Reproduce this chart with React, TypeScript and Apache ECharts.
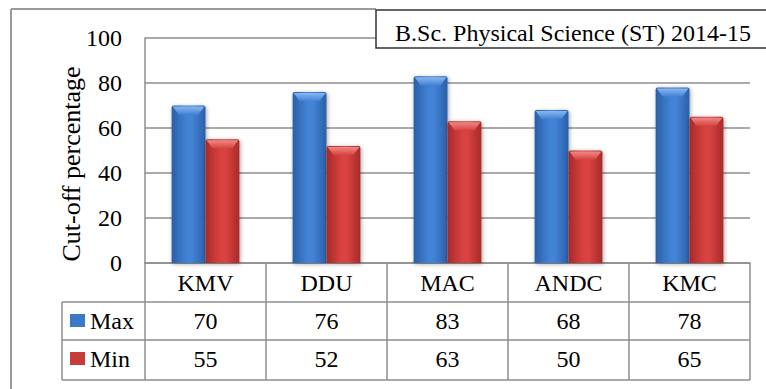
import React, { useEffect, useRef } from "react";
import * as echarts from "echarts";

const categories = ["KMV", "DDU", "MAC", "ANDC", "KMC"];
const maxValues = [70, 76, 83, 68, 78];
const minValues = [55, 52, 63, 50, 65];
const seriesNames = ["Max", "Min"];
const yTicks = { min: 0, max: 100, interval: 20 };
const titleText = "B.Sc. Physical Science (ST) 2014-15";
const yAxisTitle = "Cut-off percentage";

const FONT = "Liberation Serif";
const GRAY = "#8e8e8e";

const palettes = [
  { edge: "#2a5fa8", mid: "#4383d6", light: "#8ab6ee", base: "#3b78c8" },
  { edge: "#a82a2a", mid: "#d8433f", light: "#ee8a86", base: "#c83b3b" },
];

function makeRender(seriesIdx: number) {
  return (params: any, api: any) => {
    const cat = api.value(0);
    const val = api.value(1);
    const top = api.coord([cat, val]);
    const base = api.coord([cat, 0]);
    const band = api.size([1, 0])[0];
    const bw = band * 0.28;
    const x = top[0] + (seriesIdx === 0 ? -bw : 0);
    const y = top[1];
    const h = base[1] - top[1];
    const p = palettes[seriesIdx];
    const bevelH = Math.min(9, h);
    const bevelW = 7;
    return {
      type: "group",
      children: [
        {
          type: "rect",
          shape: { x, y, width: bw, height: h, r: [2, 2, 0, 0] },
          style: {
            fill: new echarts.graphic.LinearGradient(0, 0, 1, 0, [
              { offset: 0, color: p.edge },
              { offset: 0.45, color: p.mid },
              { offset: 0.6, color: p.mid },
              { offset: 1, color: p.edge },
            ]),
            shadowBlur: 4,
            shadowOffsetX: 1,
            shadowOffsetY: 1,
            shadowColor: "rgba(0,0,0,0.35)",
          },
        },
        {
          type: "polygon",
          shape: {
            points: [
              [x + 1, y + 1],
              [x + bw - 1, y + 1],
              [x + bw - bevelW, y + bevelH],
              [x + bevelW, y + bevelH],
            ],
          },
          style: {
            fill: new echarts.graphic.LinearGradient(0, 0, 0, 1, [
              { offset: 0, color: p.light },
              { offset: 1, color: p.mid },
            ]),
          },
        },
      ],
    };
  };
}

export default function App() {
  const ref = useRef<HTMLDivElement>(null);
  useEffect(() => {
    if (!ref.current) return;
    const chart = echarts.init(ref.current, null, { renderer: "svg" });
    const gridLeft = 145;
    const gridRight = 750;
    const axisY = 263;
    const rowLines = [302, 340, 380];
    const legendLeft = 62;

    const graphics: any[] = [
      { type: "line", shape: { x1: 11, y1: 9, x2: 376, y2: 9 }, style: { stroke: "#9a9a9a", lineWidth: 2 } },
      { type: "line", shape: { x1: 11, y1: 9, x2: 11, y2: 392 }, style: { stroke: "#9a9a9a", lineWidth: 2 } },
      {
        type: "rect",
        shape: { x: 376, y: 10, width: 400, height: 38 },
        style: { fill: "#fff", stroke: "#333", lineWidth: 1.5 },
        z: 10,
      },
      {
        type: "text",
        x: 573,
        y: 33,
        z: 11,
        style: { text: titleText, fontFamily: FONT, fontSize: 24, fill: "#000", align: "center", verticalAlign: "middle" },
      },
      {
        type: "text",
        x: 71,
        y: 164,
        rotation: Math.PI / 2,
        style: { text: yAxisTitle, fontFamily: FONT, fontSize: 26, fill: "#000", align: "center", verticalAlign: "middle" },
      },
      ...rowLines.map((yy) => ({
        type: "line",
        shape: { x1: legendLeft, y1: yy, x2: gridRight, y2: yy },
        style: { stroke: GRAY, lineWidth: 1.5 },
      })),
      {
        type: "line",
        shape: { x1: legendLeft, y1: rowLines[0], x2: legendLeft, y2: rowLines[2] },
        style: { stroke: GRAY, lineWidth: 1.5 },
      },
    ];

    const rowAxis = (offset: number, formatter: any, show: boolean) => ({
      type: "category",
      data: categories,
      position: "bottom",
      offset,
      axisLine: { show, lineStyle: { color: GRAY, width: 1.5 } },
      axisTick: show
        ? { show: true, length: 117, inside: false, lineStyle: { color: GRAY, width: 1.5 } }
        : { show: false },
      axisLabel: {
        margin: 0,
        formatter,
        fontFamily: FONT,
        fontSize: 24,
        color: "#000",
        lineHeight: offset === 0 ? 39 : 38,
        interval: 0,
      },
      splitLine: { show: false },
    });

    chart.setOption({
      animation: false,
      backgroundColor: "#fff",
      textStyle: { fontFamily: FONT },
      grid: { left: gridLeft, right: 766 - gridRight, top: 38, bottom: 389 - axisY, containLabel: false },
      legend: {
        orient: "vertical",
        left: 70,
        top: rowLines[0],
        padding: 0,
        itemGap: 1,
        itemWidth: 15,
        itemHeight: 13,
        icon: "rect",
        data: seriesNames,
        textStyle: { fontFamily: FONT, fontSize: 24, color: "#000", lineHeight: 37 },
      },
      xAxis: [
        rowAxis(0, (v: string) => v, true),
        rowAxis(39, (_v: string, i: number) => String(maxValues[i]), false),
        rowAxis(77, (_v: string, i: number) => String(minValues[i]), false),
      ],
      yAxis: {
        type: "value",
        min: yTicks.min,
        max: yTicks.max,
        interval: yTicks.interval,
        axisLine: { show: true, lineStyle: { color: GRAY, width: 1.5 } },
        axisTick: { show: false },
        axisLabel: { margin: 23, fontFamily: FONT, fontSize: 24, color: "#000" },
        splitLine: { show: true, lineStyle: { color: GRAY, width: 1.5 } },
      },
      series: [
        {
          name: seriesNames[0],
          type: "custom",
          xAxisIndex: 0,
          itemStyle: { color: palettes[0].base },
          renderItem: makeRender(0),
          encode: { x: 0, y: 1 },
          data: maxValues.map((v, i) => [i, v]),
        },
        {
          name: seriesNames[1],
          type: "custom",
          xAxisIndex: 0,
          itemStyle: { color: palettes[1].base },
          renderItem: makeRender(1),
          encode: { x: 0, y: 1 },
          data: minValues.map((v, i) => [i, v]),
        },
      ],
      graphic: graphics,
    });
    return () => chart.dispose();
  }, []);
  return <div ref={ref} style={{ width: 766, height: 389, position: "absolute", left: 0, top: 0 }} />;
}
